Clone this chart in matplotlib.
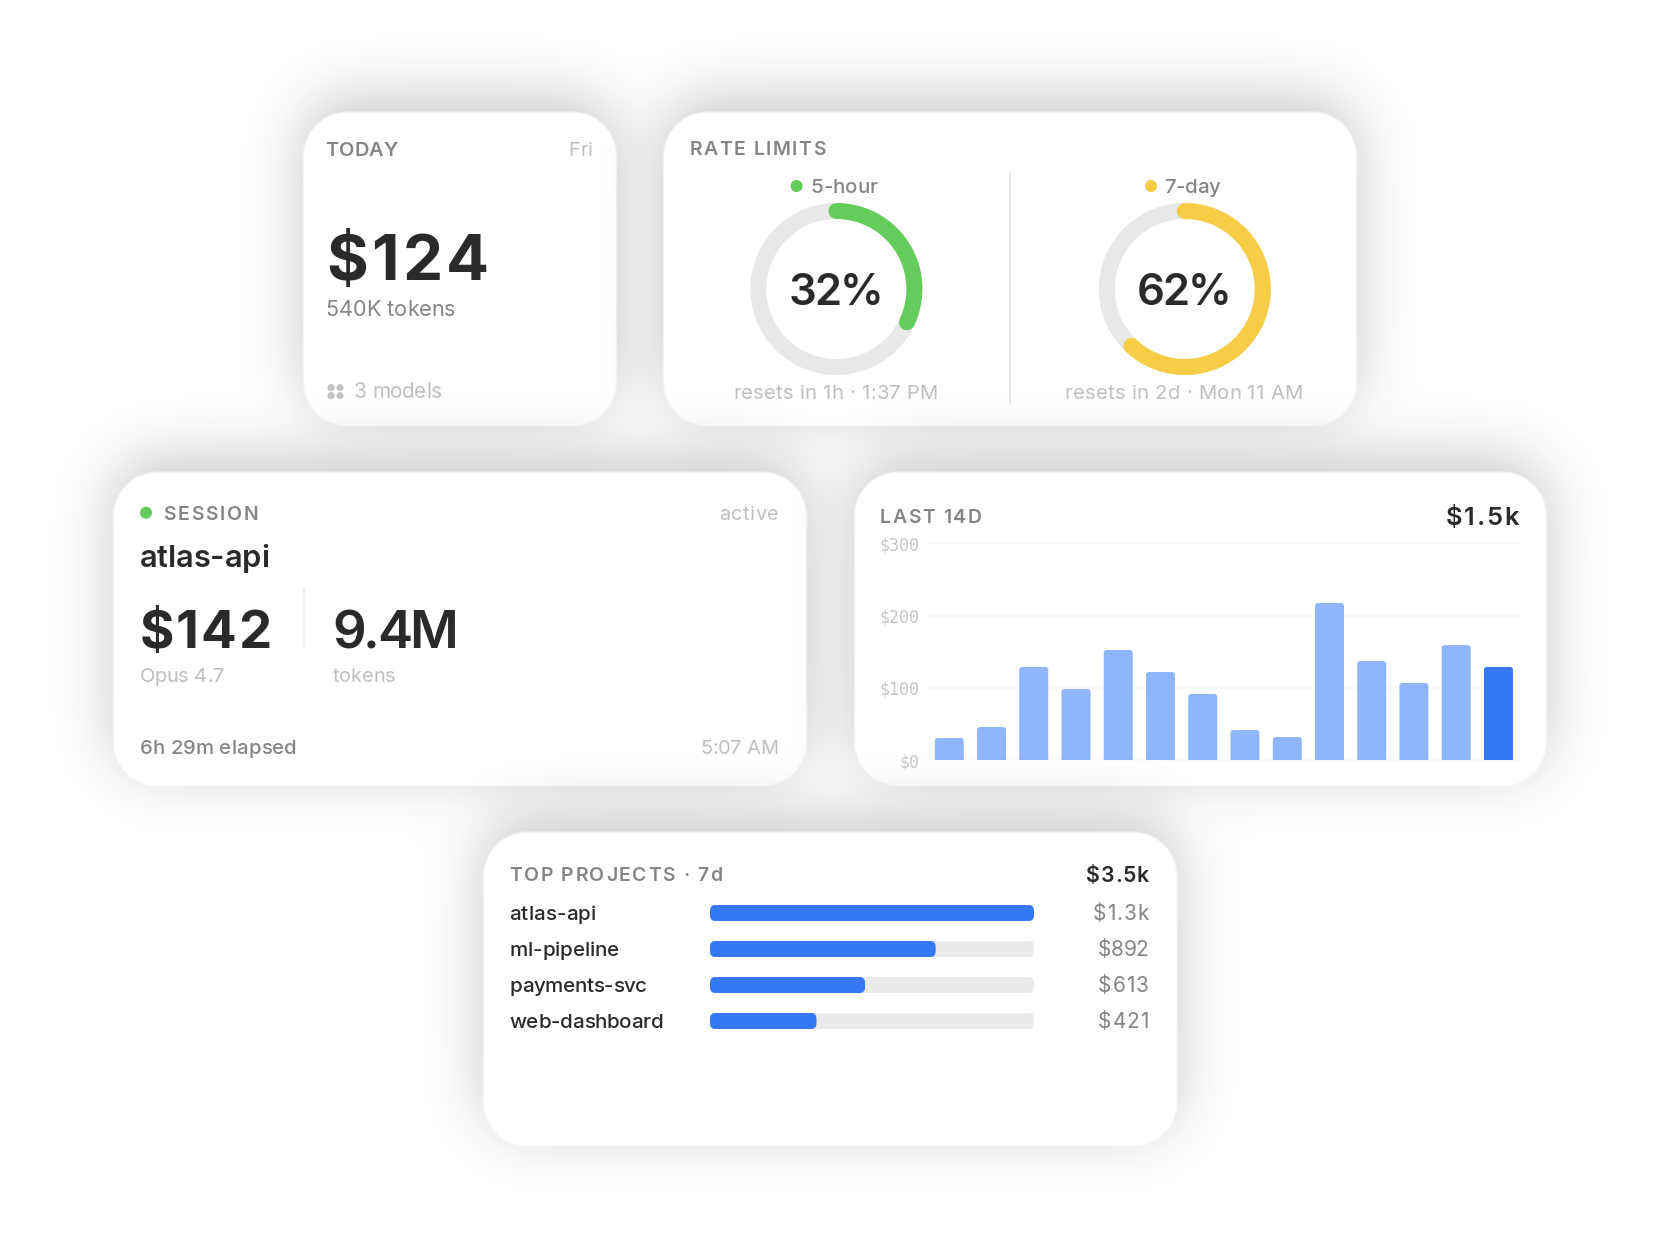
import numpy as np
import matplotlib
matplotlib.use("Agg")
import matplotlib.pyplot as plt
from matplotlib.patches import FancyBboxPatch, Circle
from matplotlib.text import Text

W, H = 1660, 1260

plt.rcParams['font.family'] = ['Inter', 'DejaVu Sans']

INK = "#2a2a2a"
MID = "#858585"
PALE = "#bfbfbf"
BLUE = "#3478f6"
GREEN = "#64cc5a"
YELLOW = "#f8cd46"
TRACK = "#e8e8e8"

# card rectangles: left, top, right, bottom
card_boxes = [(303.5, 112, 616.5, 426), (663.5, 112, 1355.5, 426), (113.5, 472, 806.5, 786),
              (853.5, 472, 1545.5, 786), (483.5, 832, 1176, 1146)]

limit_names = ["5-hour", "7-day"]
limit_pcts = [32, 62]
limit_resets = ["resets in 1h · 1:37 PM", "resets in 2d · Mon 11 AM"]
limit_name_w = [67, 56]
limit_reset_w = [205, 238]

daily_spend = [30.5, 45.7, 128.8, 98.3, 152.3, 121.8, 91.4, 41.5, 31.8, 217.4, 137, 106.6, 159, 128.8]
spend_ticks = [0, 100, 200, 300]
spend_ticklabels = ["$0", "$100", "$200", "$300"]

project_names = ["atlas-api", "ml-pipeline", "payments-svc", "web-dashboard"]
project_spend = [1281, 892, 613, 421]
project_labels = ["$1.3k", "$892", "$613", "$421"]
project_name_w = [86, 110, 137.7, 154]
project_label_w = [55.5, 50.5, 50.5, 50.5]


class FittedText(Text):
    # a Text whose letters are spaced out (or squeezed) to fill a given pixel width
    def __init__(self, x, y, s, width, **kw):
        super().__init__(x, y, s, **kw)
        self.fit_width = width

    def draw(self, renderer):
        s = self.get_text()
        fp = self.get_fontproperties()
        x, y = self.get_transform().transform(self.get_position())
        y = renderer.height - y

        def measure(part):
            return renderer.get_text_width_height_descent(part, fp, False)[0] if part else 0

        extra = (self.fit_width - measure(s)) / max(len(s) - 1, 1)
        if self.get_ha() == "right":
            x -= self.fit_width
        elif self.get_ha() == "center":
            x -= self.fit_width / 2
        gc = renderer.new_gc()
        gc.set_foreground(self.get_color())
        gc.set_antialiased(True)
        for i, c in enumerate(s):
            renderer.draw_text(gc, x + measure(s[:i]) + i * extra, y, c, fp, 0)
        gc.restore()


def round_mask(box, r):
    yy, xx = np.mgrid[0:H, 0:W] + 0.5
    cx, cy = (box[0] + box[2]) / 2, (box[1] + box[3]) / 2
    hw, hh = (box[2] - box[0]) / 2, (box[3] - box[1]) / 2
    qx = np.abs(xx - cx) - hw + r
    qy = np.abs(yy - cy) - hh + r
    d = np.hypot(np.maximum(qx, 0), np.maximum(qy, 0)) + np.minimum(np.maximum(qx, qy), 0) - r
    return np.clip(0.5 - d / 2.5, 0, 1)


def blur(a, sigma):
    fy = np.fft.fftfreq(a.shape[0])[:, None]
    fx = np.fft.rfftfreq(a.shape[1])[None, :]
    g = np.exp(-2 * (np.pi * sigma) ** 2 * (fx ** 2 + fy ** 2))
    return np.fft.irfft2(np.fft.rfft2(a) * g, s=a.shape)


# each card throws its shadow over whatever was painted before it
canvas = np.ones((H, W))
for box in card_boxes:
    m = round_mask(box, 44)
    sh = blur(np.roll(m, -14, axis=0), 30)
    canvas = canvas * (1 - 0.22 * sh)
    canvas = canvas * (1 - m) + m

fig = plt.figure(figsize=(W / 100, H / 100), dpi=100)
ax = fig.add_axes([0, 0, 1, 1])
ax.imshow(canvas, cmap="gray", vmin=0, vmax=1, extent=(0, W, H, 0), aspect="auto", interpolation="nearest", zorder=0)
ax.set_xlim(0, W)
ax.set_ylim(H, 0)
ax.axis("off")


def txt(x, y, s, size, width, color=INK, weight="normal", ha="left"):
    x = x - 1 if ha != "right" else x - 0.6
    t = FittedText(x, y, s, width, fontsize=size, color=color, fontweight=weight, ha=ha, va="baseline", zorder=3)
    ax.add_artist(t)
    return t


def dot(x, y, r, color):
    ax.add_patch(Circle((x, y), r, fc=color, ec="none", zorder=3))


def vline(x, y0, y1):
    ax.plot([x, x], [y0, y1], color="#e6e6e6", lw=1.1, zorder=2)


# today
txt(326.7, 156, "TODAY", 14.4, 72, MID, "semibold")
txt(593.3, 156, "Fri", 14.2, 24, PALE, ha="right")
txt(327, 280, "$124", 46, 163, INK, "bold")
txt(326.7, 316, "540K tokens", 15.6, 130, MID)
txt(355, 398, "3 models", 15, 88, PALE)
for dx in (331, 340):
    for dy in (387.7, 395.7):
        dot(dx, dy, 3.6, "#c4c4c4")

# rate limits
txt(690.4, 155, "RATE LIMITS", 14, 136, MID, "semibold")
vline(1010, 173, 404)
ring_x = [836.4, 1184.8]
ring_cols = [GREEN, YELLOW]
dot_x = [796.6, 1151]
name_x = [811.8, 1165.4]
for i in range(2):
    t = np.linspace(0, 2 * np.pi, 361)
    ax.plot(ring_x[i] + 78 * np.sin(t), 289 - 78 * np.cos(t), color=TRACK, lw=11.5, zorder=2)
    t = np.linspace(0, 2 * np.pi * limit_pcts[i] / 100, 200)
    ax.plot(ring_x[i] + 78 * np.sin(t), 289 - 78 * np.cos(t), color=ring_cols[i], lw=11.5,
            solid_capstyle="round", zorder=2.5)
    dot(dot_x[i], 186, 6, ring_cols[i])
    txt(name_x[i], 192.7, limit_names[i], 14.8, limit_name_w[i], MID, "medium")
    txt(ring_x[i] + 0.5, 305, "%d%%" % limit_pcts[i], 31.4, 95, INK, "semibold", ha="center")
    txt(ring_x[i], 399, limit_resets[i], 14.6, limit_reset_w[i], PALE, ha="center")

# session
dot(146, 512.7, 6, GREEN)
txt(164.3, 520, "SESSION", 14, 95, MID, "semibold")
txt(779.2, 520, "active", 14.2, 59, PALE, ha="right")
txt(140.4, 567.3, "atlas-api", 22.2, 130, INK, "semibold")
txt(140.4, 648.3, "$142", 38, 132, INK, "bold")
vline(303.9, 588, 648)
txt(333, 648.3, "9.4M", 38, 126, INK, "semibold")
txt(140.4, 681.7, "Opus 4.7", 14.4, 84.5, PALE)
txt(333.5, 681.7, "tokens", 14.4, 63, PALE)
txt(140.4, 754, "6h 29m elapsed", 14.6, 157, MID, "medium")
txt(779.2, 754, "5:07 AM", 14.4, 78.5, PALE, ha="right")

# last 14 days
txt(880.4, 522.7, "LAST 14D", 14, 102.7, MID, "semibold")
txt(1518.9, 525, "$1.5k", 18.4, 72, INK, "semibold", ha="right")


def px_axes(x0, y0, x1, y1):
    a = fig.add_axes([x0 / W, 1 - y1 / H, (x1 - x0) / W, (y1 - y0) / H])
    a.patch.set_alpha(0)
    return a


bx = px_axes(928, 543.3, 1520, 760)
bx.set_xlim(-0.504, 13.51)
bx.set_ylim(0, 300)
for s in bx.spines.values():
    s.set_visible(False)
bx.set_xticks([])
bx.set_yticks(spend_ticks)
bx.set_yticklabels(spend_ticklabels, family="DejaVu Sans Mono", fontsize=12, color="#c6c6c6")
bx.tick_params(axis="y", length=0, pad=5.8)
bx.grid(axis="y", color="#f6f8fd", lw=1.2)
bx.set_axisbelow(True)
for gl in bx.get_ygridlines():
    gl.set_clip_on(False)
for i, v in enumerate(daily_spend):
    last = i == len(daily_spend) - 1
    bx.add_patch(FancyBboxPatch((i - 0.343, -20), 0.686, v + 20, boxstyle="round,pad=0,rounding_size=0.07",
                                mutation_aspect=59, fc=BLUE, ec="none", alpha=1 if last else 0.55, zorder=3))

# top projects
txt(510.4, 881, "TOP PROJECTS · 7d", 14, 213, MID, "semibold")
txt(1149.2, 881.7, "$3.5k", 15.4, 62.4, INK, "semibold", ha="right")

px = px_axes(710, 895, 1034, 1039)
px.set_xlim(0, max(project_spend))
px.set_ylim(3.5, -0.5)
px.axis("off")
for i, v in enumerate(project_spend):
    px.add_patch(FancyBboxPatch((0, i - 0.222), max(project_spend), 0.444, boxstyle="round,pad=0,rounding_size=22",
                                mutation_aspect=0.00702, fc="#ebebeb", ec="none", zorder=1))
    px.add_patch(FancyBboxPatch((0, i - 0.222), v, 0.444, boxstyle="round,pad=0,rounding_size=22",
                                mutation_aspect=0.00702, fc=BLUE, ec="none", zorder=2))
    y = 920 + 36 * i
    txt(510.4, y, project_names[i], 14.8, project_name_w[i], INK, "medium")
    txt(1149.2, y, project_labels[i], 15, project_label_w[i], MID, ha="right")

fig.savefig("out.png", dpi=100)
